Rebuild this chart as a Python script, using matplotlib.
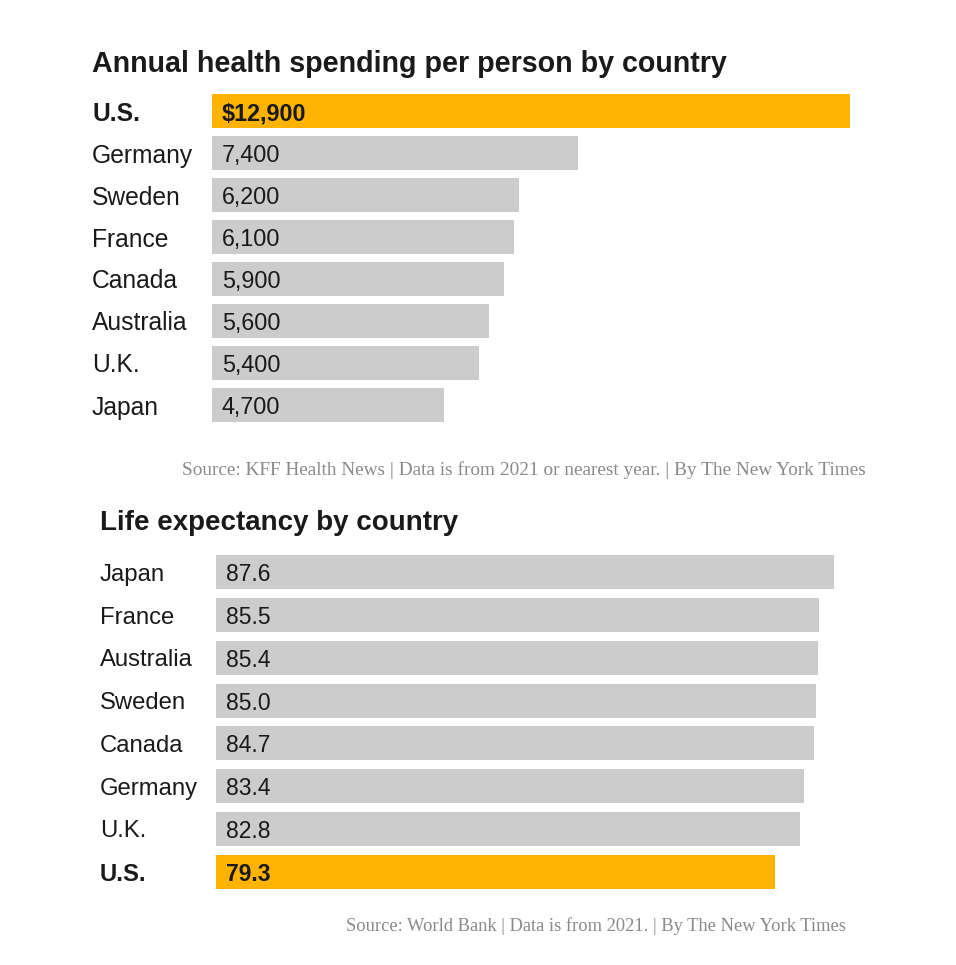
import matplotlib
matplotlib.use("Agg")
import matplotlib.pyplot as plt
from matplotlib.transforms import blended_transform_factory as btf

# ---- data ----
spend_countries = ["U.S.", "Germany", "Sweden", "France", "Canada", "Australia", "U.K.", "Japan"]
spend_values = [12900, 7400, 6200, 6100, 5900, 5600, 5400, 4700]
spend_labels = ["$12,900", "7,400", "6,200", "6,100", "5,900", "5,600", "5,400", "4,700"]

life_countries = ["Japan", "France", "Australia", "Sweden", "Canada", "Germany", "U.K.", "U.S."]
life_values = [87.6, 85.5, 85.4, 85.0, 84.7, 83.4, 82.8, 79.3]
life_labels = ["87.6", "85.5", "85.4", "85.0", "84.7", "83.4", "82.8", "79.3"]

highlight = "U.S."

W, H = 956, 965
GOLD = "#FDB300"
GRAY = "#CCCCCC"
TXT = "#1a1a1a"
SRC = "#8a8a8a"
SANS = ["Liberation Sans", "DejaVu Sans"]
SERIF = ["Liberation Serif", "DejaVu Serif"]

fig = plt.figure(figsize=(W / 100, H / 100), dpi=100)
fig.patch.set_facecolor("white")


def px_ax(x0, y0, x1, y1):
    return fig.add_axes([x0 / W, 1 - y1 / H, (x1 - x0) / W, (y1 - y0) / H])


def draw(ax, countries, values, labels, xmax, label_x_px, val_off_px, bar_h, lab_fs, val_fs):
    n = len(countries)
    ypos = list(range(n))
    colors = [GOLD if c == highlight else GRAY for c in countries]
    ax.barh(ypos, values, height=bar_h, color=colors, edgecolor="none")
    ax.set_xlim(0, xmax)
    ax.set_ylim(n - 0.5, -0.5)
    ax.axis("off")
    tr = btf(fig.transFigure, ax.transData)
    x0_fig = ax.get_position().x0
    for y, c, lab in zip(ypos, countries, labels):
        bold = c == highlight
        ax.text(label_x_px / W, y, c, transform=tr, ha="left", va="center_baseline",
                fontsize=lab_fs, family=SANS, color=TXT,
                fontweight="bold" if bold else "normal")
        ax.text(x0_fig + val_off_px / W, y, lab, transform=tr, ha="left", va="center_baseline",
                fontsize=val_fs, family=SANS, color=TXT,
                fontweight="bold" if bold else "normal")


# top chart
ax1 = px_ax(212, 90, 850, 426)
draw(ax1, spend_countries, spend_values, spend_labels, max(spend_values), 92, 10, 0.81, 17.7, 16.8)
fig.text(92 / W, 1 - 64 / H, "Annual health spending per person by country",
         ha="left", va="center", fontsize=20.6, fontweight="bold", family=SANS, color=TXT)
fig.text(866 / W, 1 - 470 / H,
         "Source: KFF Health News | Data is from 2021 or nearest year. | By The New York Times",
         ha="right", va="center", fontsize=13.85, family=SERIF, color=SRC)

# bottom chart
ax2 = px_ax(216, 551, 834, 893)
draw(ax2, life_countries, life_values, life_labels, max(life_values), 100, 10, 0.79, 17.2, 16.5)
fig.text(100 / W, 1 - 523 / H, "Life expectancy by country",
         ha="left", va="center", fontsize=20, fontweight="bold", family=SANS, color=TXT)
fig.text(846 / W, 1 - 926 / H,
         "Source: World Bank | Data is from 2021. | By The New York Times",
         ha="right", va="center", fontsize=13.3, family=SERIF, color=SRC)

fig.savefig("out.png", dpi=100, facecolor="white")
